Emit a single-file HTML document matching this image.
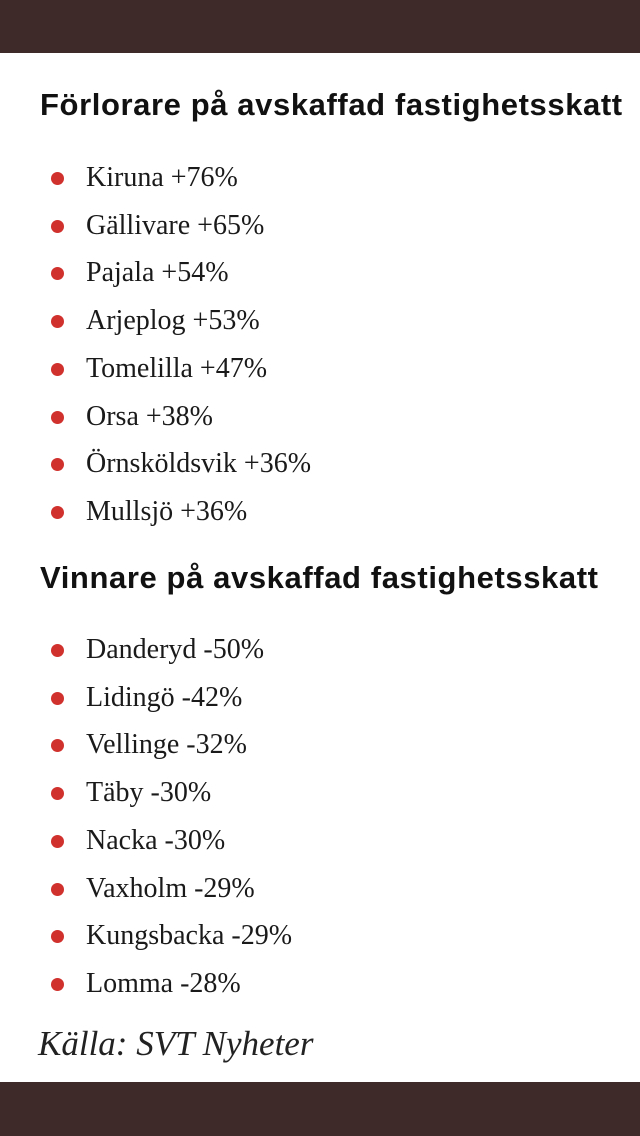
<!DOCTYPE html>
<html><head><meta charset="utf-8"><style>
body{margin:0;width:640px;height:1136px;background:#fff;position:relative;overflow:hidden;font-family:"Liberation Serif",serif;}
.bar{position:absolute;left:0;width:640px;background:#3e2a28;}
h2{position:absolute;left:40px;margin:0;font-family:"Liberation Sans",sans-serif;font-weight:bold;font-size:31px;color:#111;letter-spacing:0.6px;white-space:nowrap;line-height:1;}
.item{position:absolute;left:86px;font-size:28px;color:#1a1a1a;line-height:1;white-space:nowrap;}
.dot{position:absolute;left:-35px;top:8px;width:13px;height:13px;border-radius:50%;background:#d0312d;}
.src{position:absolute;left:38px;top:1024px;font-style:italic;font-size:35px;color:#222;}
</style></head><body>
<div class="bar" style="top:0;height:53px"></div>
<h2 style="top:89px">Förlorare på avskaffad fastighetsskatt</h2>
<h2 style="top:562px">Vinnare på avskaffad fastighetsskatt</h2>
<div class="src">Källa: SVT Nyheter</div>
<div class="bar" style="top:1082px;height:54px"></div>
<script>
const losers=["Kiruna","Gällivare","Pajala","Arjeplog","Tomelilla","Orsa","Örnsköldsvik","Mullsjö"];
const loserVals=["+76%","+65%","+54%","+53%","+47%","+38%","+36%","+36%"];
const winners=["Danderyd","Lidingö","Vellinge","Täby","Nacka","Vaxholm","Kungsbacka","Lomma"];
const winnerVals=["-50%","-42%","-32%","-30%","-30%","-29%","-29%","-28%"];
function list(names,vals,top,prefix){
  names.forEach((n,i)=>{
    const d=document.createElement('div');
    d.className='item';
    
    
    d.style.top=(top+i*47.7)+'px';
    d.innerHTML='<span class="dot"></span>'+n+' '+vals[i];
    
    
    document.body.appendChild(d);
  });
}
list(losers,loserVals,164,'loser');
list(winners,winnerVals,636,'winner');
</script>
</body></html>
